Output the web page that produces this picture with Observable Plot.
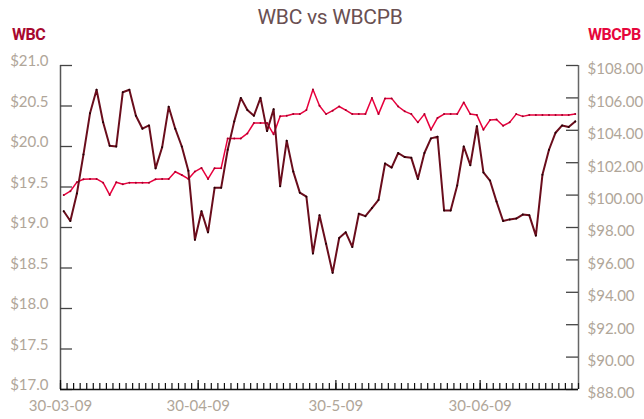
<!DOCTYPE html>
<html><head><meta charset="utf-8">
<script src="https://cdn.jsdelivr.net/npm/d3@7"></script>
<script src="https://cdn.jsdelivr.net/npm/@observablehq/plot@0.6"></script>
<style>
body{margin:0;background:#fff;}
#wrap{position:relative;width:644px;height:419px;overflow:hidden;}
#wrap svg{position:absolute;left:0;top:0;}
.title{position:absolute;top:5px;left:330px;transform:translateX(-50%);white-space:nowrap;font:400 21px Roboto, sans-serif;color:#6a5052;letter-spacing:-0.3px;}
.lab{position:absolute;top:25px;font:bold 16px Roboto, sans-serif;letter-spacing:-0.5px;}
</style></head><body>
<div id="wrap">
  <div class="title">WBC vs WBCPB</div>
  <div class="lab" style="left:12px;color:#a8092f">WBC</div>
  <div class="lab" style="left:588px;color:#e6063c">WBCPB</div>
</div>
<script>
// Daily closing prices, 30-03-09 to 21-07-09 (one value per trading day)
const wbc = [19.20,19.08,19.42,19.90,20.41,20.70,20.30,20.01,20.00,20.67,
  20.70,20.38,20.22,20.26,19.73,19.99,20.49,20.22,20.00,19.70,
  18.85,19.20,18.94,19.49,19.49,19.96,20.31,20.60,20.45,20.38,
  20.60,20.19,20.46,19.51,20.07,19.69,19.43,19.38,18.68,19.15,
  18.80,18.44,18.87,18.94,18.76,19.17,19.14,19.24,19.34,19.79,
  19.74,19.92,19.87,19.86,19.60,19.92,20.10,20.12,19.21,19.21,
  19.52,20.00,19.77,20.25,19.68,19.58,19.32,19.08,19.10,19.11,
  19.16,19.15,18.90,19.65,19.96,20.17,20.26,20.24,20.31];
const wbcpb = [100.00,100.24,100.80,100.98,101.00,101.00,100.77,100.01,100.79,100.67,
  100.77,100.77,100.77,100.77,100.98,101.00,101.00,101.44,101.24,101.00,
  101.45,101.68,101.00,101.66,101.66,103.50,103.50,103.50,103.81,104.45,
  104.45,104.45,103.75,104.86,104.90,105.00,105.00,105.25,106.52,105.52,
  105.00,105.21,105.47,105.25,105.00,105.00,105.00,105.99,105.00,105.97,
  105.97,105.47,105.17,105.00,104.49,105.00,104.04,104.76,105.00,105.00,
  105.00,105.72,105.00,104.94,104.04,104.63,104.67,104.28,104.49,105.00,
  104.86,104.94,104.94,104.94,104.94,104.94,104.94,104.94,105.00];
const xTickIndex = [0, 21, 42, 64];
const xTickLabels = ["30-03-09", "30-04-09", "30-5-09", "30-06-09"];
const wbcTicks = [17.0,17.5,18.0,18.5,19.0,19.5,20.0,20.5,21.0];
const wbcpbTicks = [88,90,92,94,96,98,100,102,104,106,108];

const N = wbc.length;
const W = 644, H = 419, mT = 65, mB = 30, mL = 60, mR = 66;
const innerW = W - mL - mR, innerH = H - mT - mB;
const labelColor = "#b0a699";
const common = {
  width: W, height: H, marginTop: mT, marginBottom: mB, marginLeft: mL, marginRight: mR,
  x: {domain: [0, N], axis: null},
  style: {background: "transparent", overflow: "visible", fontFamily: "Lato, sans-serif"}
};

const plotRight = Plot.plot({
  ...common,
  y: {domain: [88, 108], axis: null},
  marks: [
    Plot.ruleX([N], {stroke: "#666", strokeWidth: 1.5}),
    Plot.ruleY(wbcpbTicks, {y: d => d, insetLeft: innerW - 12, stroke: "#444", strokeWidth: 1.3}),
    Plot.text(wbcpbTicks, {y: d => d, text: d => "$" + d.toFixed(2), frameAnchor: "right",
      textAnchor: "start", dx: 9, dy: 4, fill: labelColor, fontSize: 15}),
    Plot.line(wbcpb, {x: (d, i) => i + 0.5, y: d => d, stroke: "#e8003d", strokeWidth: 1.5}),
    Plot.dot(wbcpb, {x: (d, i) => i + 0.5, y: d => d, r: 1, fill: "#a0002a"})
  ]
});

const plotLeft = Plot.plot({
  ...common,
  y: {domain: [17, 21], axis: null},
  marks: [
    Plot.ruleX([0], {stroke: "#555", strokeWidth: 1.5}),
    Plot.ruleY(wbcTicks, {y: d => d, insetRight: innerW - 12, stroke: "#444", strokeWidth: 1.3}),
    Plot.text(wbcTicks, {y: d => d, text: d => "$" + d.toFixed(1), frameAnchor: "left",
      textAnchor: "end", dx: -12, dy: -4, fill: labelColor, fontSize: 15}),
    Plot.ruleX(d3.range(N + 1), {x: d => d, insetTop: innerH - 6, stroke: "#111", strokeWidth: 1.2}),
    Plot.ruleX(xTickIndex, {x: d => d, insetTop: innerH - 9, stroke: "#111", strokeWidth: 1.2}),
    Plot.ruleY([17], {stroke: "#111", strokeWidth: 1.5}),
    Plot.text(xTickIndex, {x: d => d, text: (d, i) => xTickLabels[i], frameAnchor: "bottom",
      lineAnchor: "top", dy: 11, fill: labelColor, fontSize: 15}),
    Plot.line(wbc, {x: (d, i) => i + 0.5, y: d => d, stroke: "#6a0d1c", strokeWidth: 2}),
    Plot.dot(wbc, {x: (d, i) => i + 0.5, y: d => d, r: 1, fill: "#220006"})
  ]
});

const wrap = document.getElementById("wrap");
wrap.appendChild(plotRight);
wrap.appendChild(plotLeft);
</script>
</body></html>
